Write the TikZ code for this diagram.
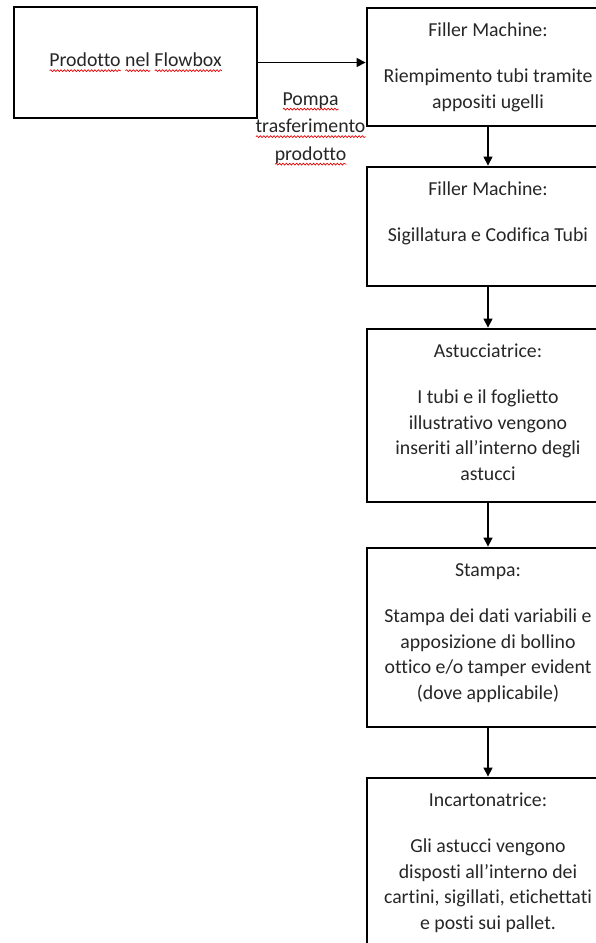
\documentclass[tikz,border=0pt]{standalone}
\usepackage{fontspec}
\setmainfont{Carlito}[Ligatures={NoCommon}]
\usetikzlibrary{arrows.meta,decorations.pathmorphing}
\newlength\squigwd
\newcommand\redsquig[1]{\settowidth\squigwd{#1}\leavevmode\rlap{\tikz[baseline=0pt,x=1pt,y=1pt]\draw[red!90!black,line width=0.7pt,decorate,decoration={snake,amplitude=0.9pt,segment length=3.4pt}] (0pt,-3.8pt) -- (\squigwd,-3.8pt);}#1}
\begin{document}
\begin{tikzpicture}[x=1pt,y=-1pt,
  box/.style={draw=black, line width=2.8pt, inner sep=0pt},
  bigtxt/.style={font=\fontsize{19.8}{25.5}\selectfont, align=center, inner sep=0pt, text=black!85},
  lbltxt/.style={font=\fontsize{19.8}{27.5}\selectfont, align=center, inner sep=0pt, text=black!85},
  arr/.style={line width=1.2pt, -{Triangle[length=9pt,width=9pt]}},
]
\useasboundingbox (0,0) rectangle (596,943);
\clip (0,0) rectangle (596,943);

% left box
\node[box, bigtxt, minimum width=243pt, minimum height=111pt] (A) at (135.5,62.5)
  {\redsquig{Prodotto} \redsquig{nel} \redsquig{Flowbox}};

% right column boxes
\node[box, minimum width=242pt, minimum height=118pt] (b1) at (488,67) {};
\node[box, minimum width=242pt, minimum height=119pt] (b2) at (488,226.5) {};
\node[box, minimum width=242pt, minimum height=173pt] (b3) at (488,415.5) {};
\node[box, minimum width=242pt, minimum height=179pt] (b4) at (488,637.5) {};
\node[box, minimum width=242pt, minimum height=182pt] (b5) at (488,869) {};

% texts in boxes
\node[bigtxt, anchor=north] (t1) at ([yshift=-12.2pt]b1.north)
  {\strut Filler Machine:\\[20.5pt]Riempimento tubi tramite\\appositi ugelli};
\node[bigtxt, anchor=north] (t2) at ([yshift=-12.2pt]b2.north)
  {\strut Filler Machine:\\[20.5pt]Sigillatura e Codifica Tubi};
\node[bigtxt, anchor=north] (t3) at ([yshift=-12.2pt]b3.north)
  {\strut Astucciatrice:\\[20.5pt]I tubi e il foglietto\\illustrativo vengono\\inseriti all’interno degli\\astucci};
\node[bigtxt, anchor=north] (t4) at ([yshift=-12.2pt]b4.north)
  {\strut Stampa:\\[20.5pt]Stampa dei dati variabili e\\apposizione di bollino\\ottico e/o tamper evident\\(dove applicabile)};
\node[bigtxt, anchor=north] (t5) at ([yshift=-12.2pt]b5.north)
  {\strut Incartonatrice:\\[20.5pt]Gli astucci vengono\\disposti all’interno dei\\cartini, sigillati, etichettati\\e posti sui pallet.};

% connectors
\draw[arr] (A.east) -- (A.east -| b1.west);
\node[lbltxt] (lbl) at (310.5,129)
  {\redsquig{Pompa}\\\redsquig{trasferimento}\\\redsquig{prodotto}};
\draw[arr] (b1.south) -- (b2.north);
\draw[arr] (b2.south) -- (b3.north);
\draw[arr] (b3.south) -- (b4.north);
\draw[arr] (b4.south) -- (b5.north);
\end{tikzpicture}
\end{document}
